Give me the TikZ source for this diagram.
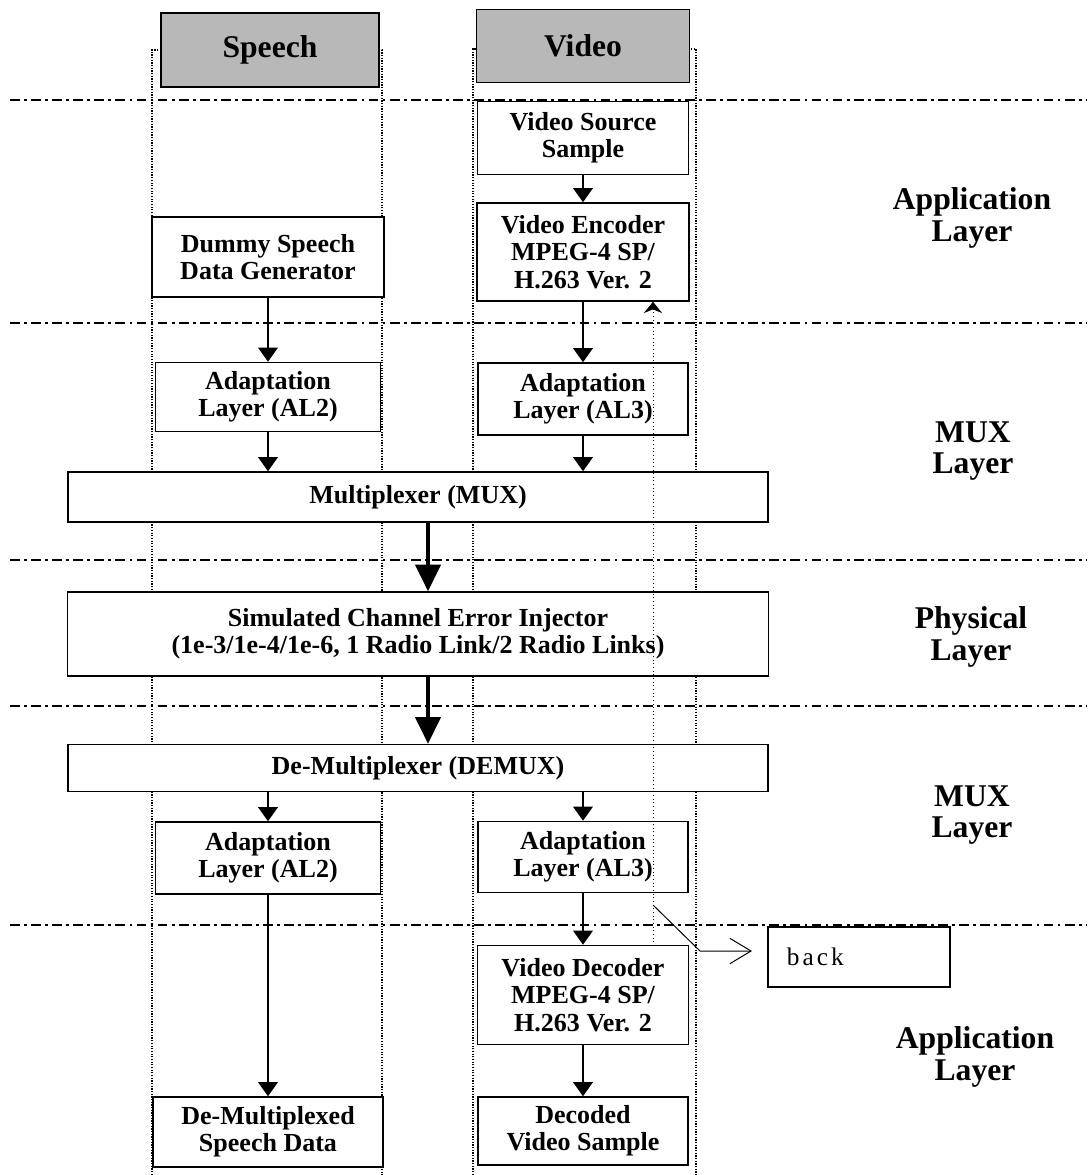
\documentclass[tikz,border=0pt]{standalone}
\usepackage{fontspec}
\setmainfont{Liberation Serif}
\usepackage{tikz}
\usetikzlibrary{arrows.meta}
\newcommand\boxfont{\fontsize{18.5}{19.4}\selectfont\bfseries}
\newcommand\hdrfont{\fontsize{22.5}{22.5}\selectfont\bfseries}

\begin{document}
\begin{tikzpicture}[x=0.025cm,y=-0.025cm,
  blk/.style={draw, fill=white, line width=1.1pt, align=center, font=\boxfont, inner sep=2pt},
  hdr/.style={draw, fill=black!28, line width=1.1pt, font=\hdrfont},
  lyr/.style={align=center, font=\hdrfont},
  arr/.style={-{Triangle[length=10pt,width=14pt]}, line width=1pt},
  fat/.style={-{Triangle[length=19pt,width=18pt]}, line width=2.8pt},
  col/.style={densely dotted, line width=0.9pt},
  sep/.style={dash pattern=on 7pt off 3pt on 2pt off 3pt, line width=0.8pt},
  fb/.style={dotted, line width=0.6pt}]
  \useasboundingbox (0,0) rectangle (1087,1175);
  \coordinate (spine) at (428,0);
  \coordinate (fbFoot) at (653,942);
  \coordinate (fbKnee) at (653,905);
  \coordinate (fbBend) at (700,951);
  \coordinate (fbTip) at (752,951);
  \draw[col] (152,1175) -- (152,50) -- (382,50) -- (382,1175);
  \draw[col] (473,1175) -- (473,49) -- (696,49) -- (696,1175);
  \draw[sep] (10,100) -- (1087,100);
  \draw[sep] (10,323) -- (1087,323);
  \draw[sep] (10,560) -- (1087,560);
  \draw[sep] (10,706) -- (1087,706);
  \draw[sep] (10,925) -- (1087,925);
  \node[hdr, minimum width=5.45cm, minimum height=1.85cm] (hSpeech) at (270,50) {Speech};
  \node[hdr, minimum width=5.325cm, minimum height=1.825cm] (hVideo) at (583,46) {Video};
  \node[blk, minimum width=5.275cm, minimum height=1.825cm] (vidSrc) at (583,138) {Video Source\\Sample};
  \node[blk, minimum width=5.3cm, minimum height=2.45cm] (vidEnc) at (583,252) {Video Encoder\\MPEG-4 SP/\\H.263 Ver. 2};
  \node[blk, minimum width=5.8cm, minimum height=2cm] (dummyGen) at (268,257) {Dummy Speech\\Data Generator};
  \node[blk, minimum width=5.625cm, minimum height=1.725cm] (alTwoTx) at (268,397) {Adaptation\\Layer (AL2)};
  \node[blk, minimum width=5.25cm, minimum height=1.8cm] (alThreeTx) at (583,399) {Adaptation\\Layer (AL3)};
  \node[blk, minimum width=17.5cm, minimum height=1.25cm] (muxBox) at (418,497) {Multiplexer (MUX)};
  \node[blk, minimum width=17.525cm, minimum height=2.1cm] (chanBox) at (418,634) {Simulated Channel Error Injector\\(1e-3/1e-4/1e-6, 1 Radio Link/2 Radio Links)};
  \node[blk, minimum width=17.5cm, minimum height=1.175cm] (demuxBox) at (418,768) {De-Multiplexer (DEMUX)};
  \node[blk, minimum width=5.625cm, minimum height=1.8cm] (alTwoRx) at (268,858) {Adaptation\\Layer (AL2)};
  \node[blk, minimum width=5.25cm, minimum height=1.775cm] (alThreeRx) at (583,857) {Adaptation\\Layer (AL3)};
  \node[blk, minimum width=5.275cm, minimum height=2.475cm] (vidDec) at (583,995) {Video Decoder\\MPEG-4 SP/\\H.263 Ver. 2};
  \node[blk, minimum width=5.25cm, minimum height=1.7cm] (vidOut) at (583,1131) {Decoded\\Video Sample};
  \node[blk, minimum width=5.75cm, minimum height=1.75cm] (speechOut) at (268,1132) {De-Multiplexed\\Speech Data};
  \node[draw, fill=white, line width=1.1pt, minimum width=4.55cm, minimum height=1.5cm, text width=3.6cm, align=left, font=\fontsize{18}{20}\selectfont\addfontfeature{LetterSpace=12}] (backBox) at (859,957) {back};
  \node[lyr] (appTop) at (972,218) {Application\\Layer};
  \node[lyr] (muxTop) at (973,451) {MUX\\Layer};
  \node[lyr] (phyLyr) at (971,637) {Physical\\Layer};
  \node[lyr] (muxBot) at (972,815) {MUX\\Layer};
  \node[lyr] (appBot) at (975,1057) {Application\\Layer};
  \draw[arr] (vidSrc) -- (vidEnc);
  \draw[arr] (vidEnc) -- (alThreeTx);
  \draw[arr] (dummyGen) -- (alTwoTx);
  \draw[arr] (alTwoTx) -- (alTwoTx |- muxBox.north);
  \draw[arr] (alThreeTx) -- (alThreeTx |- muxBox.north);
  \draw[fat] (muxBox.south -| spine) -- (chanBox.north -| spine);
  \draw[fat] (chanBox.south -| spine) -- (demuxBox.north -| spine);
  \draw[arr] (demuxBox.south -| alTwoRx) -- (alTwoRx);
  \draw[arr] (demuxBox.south -| alThreeRx) -- (alThreeRx);
  \draw[arr] (alThreeRx) -- (vidDec);
  \draw[arr] (vidDec) -- (vidOut);
  \draw[arr] (alTwoRx) -- (speechOut);
  \draw[fb, -{Stealth[length=8pt,width=13pt]}] (fbFoot) -- (fbFoot |- vidEnc.south);
  \draw[line width=0.7pt, -{Straight Barb[length=15pt,width=18pt]}] (fbKnee) -- (fbBend) -- (fbTip);
\end{tikzpicture}
\end{document}
